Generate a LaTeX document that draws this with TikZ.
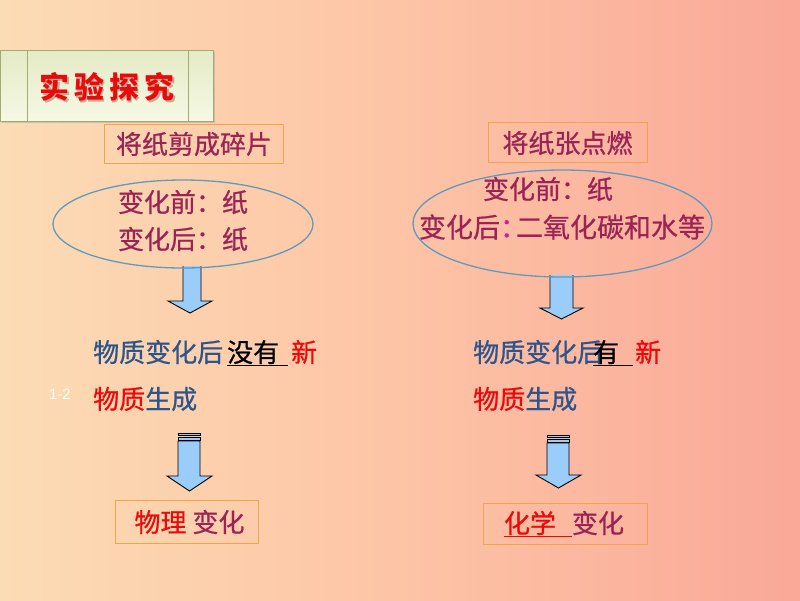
\documentclass[tikz,border=0pt]{standalone}
\usepackage{fontspec}
\newfontfamily\cjk{Noto Sans CJK SC}
\newfontfamily\cjkm[FakeBold=0.7]{Noto Sans CJK SC}
\newfontfamily\lsans{Liberation Sans}
\usetikzlibrary{shapes.geometric}
\definecolor{bgL}{RGB}{252,220,180}
\definecolor{bgM}{RGB}{253,196,166}
\definecolor{bgR}{RGB}{250,168,152}
\definecolor{maroon}{RGB}{155,35,85}
\definecolor{tblue}{RGB}{45,85,140}
\definecolor{tred}{RGB}{235,10,10}
\definecolor{tmag}{RGB}{200,30,160}
\definecolor{boxor}{RGB}{240,165,70}
\definecolor{ellb}{RGB}{95,155,190}
\definecolor{arrfill}{RGB}{155,205,250}
\definecolor{titleT}{RGB}{228,235,198}
\definecolor{titleB}{RGB}{246,248,228}
\definecolor{titleE}{RGB}{165,170,115}
\begin{document}
\begin{tikzpicture}[x=1pt,y=-1pt,
 txt/.style={font=\cjkm\fontsize{26}{30}\selectfont, inner sep=0pt},
 obox/.style={draw=boxor, line width=1pt, inner sep=0pt},
 oval/.style={ellipse, draw=ellb, line width=1.3pt, inner sep=0pt},
 barrow/.style={fill=arrfill, draw=black, line width=0.9pt, line join=miter},
]
% background
\shade[left color=bgL, right color=bgR, middle color=bgM] (0,0) rectangle (800,600);
\useasboundingbox (0,0) rectangle (800,600);

% title box
\fill[black!35, opacity=0.5] (2,52) rectangle (215,123);
\shade[top color=titleT, bottom color=titleB, draw=titleE, line width=1pt] (0,50) rectangle (213,121);
\draw[titleE, line width=1pt] (27,50) -- (27,121) (188,50) -- (188,121);
\node[font=\cjk\bfseries\fontsize{30}{32}\selectfont, text=red!40!black, opacity=0.3, inner sep=0pt] (titlesh) at (108.5,88.5) {实\kern5pt 验\kern5pt 探\kern5pt 究};
\node[font=\cjk\bfseries\fontsize{30}{32}\selectfont, text=tred, inner sep=0pt] (title) at (107,87) {实\kern5pt 验\kern5pt 探\kern5pt 究};

% top boxes
\node[obox, minimum width=179pt, minimum height=39pt] (b1) at (193.5,143.5) {};
\node[txt, text=maroon] (b1t) at (194,144) {将纸剪成碎片};
\node[obox, minimum width=159pt, minimum height=40pt] (b2) at (567.5,142) {};
\node[txt, text=maroon] (b2t) at (567.5,143) {将纸张点燃};

% arrows from ellipses
\filldraw[barrow] (183,266) -- (183,301) -- (168,301) -- (190,313) -- (212,301) -- (201,301) -- (201,266);
\filldraw[barrow] (550,275) -- (550,308) -- (540,308) -- (561.5,319) -- (583,308) -- (573,308) -- (573,275);

% ellipses
\node[oval, minimum width=260pt, minimum height=88pt] (e1) at (183,224) {};
\node[txt, text=maroon] (e1a) at (183,202) {变化前：纸};
\node[txt, text=maroon] (e1b) at (183,239) {变化后：纸};
\node[oval, minimum width=299pt, minimum height=107pt] (e2) at (562.5,223.5) {};
\node[txt, text=maroon] (e2a) at (548,189) {变化前：纸};
\node[txt, text=maroon, font=\cjkm\fontsize{27}{30}\selectfont] (e2b) at (562,227) {变化后\textcolor{tmag}{：}\kern-11pt 二氧化碳和水等};

% middle texts
\node[txt, anchor=west] (l1) at (93,353) {\textcolor{tblue}{物质变化后}\hspace{4pt}\underline{没有\hspace{9pt}}\hspace{3pt}\textcolor{tred}{新}};
\node[txt, anchor=west] (l2) at (93,399) {\textcolor{tred}{物质}\textcolor{tblue}{生成}};
\node[font=\lsans\fontsize{15}{17}\selectfont, text=white, inner sep=0pt] (pg) at (60,394) {1-2};
\node[txt, anchor=west] (r1) at (473,353) {\textcolor{tblue}{物质变化后}\kern-10pt\underline{有\hspace{14pt}}\hspace{2pt}\textcolor{tred}{新}};
\node[txt, anchor=west] (r2) at (473,399) {\textcolor{tred}{物质}\textcolor{tblue}{生成}};

% lower arrows
\filldraw[barrow] (178,433) rectangle (200,435.8);
\filldraw[barrow] (178,437.2) rectangle (200,440);
\filldraw[barrow] (178,441) -- (178,476) -- (167,476) -- (189.5,491) -- (212,476) -- (200,476) -- (200,441) -- cycle;
\filldraw[barrow] (547,435) rectangle (569,437.8);
\filldraw[barrow] (547,439.2) rectangle (569,442);
\filldraw[barrow] (547,443) -- (547,475) -- (536,475) -- (558.5,488) -- (581,475) -- (569,475) -- (569,443) -- cycle;

% bottom boxes
\node[obox, minimum width=143pt, minimum height=43pt] (b3) at (186.5,521.5) {};
\node[txt] (b3t) at (189.5,522) {\textcolor{tred}{物理}\hspace{6pt}\textcolor{maroon}{变化}};
\node[obox, minimum width=164pt, minimum height=41pt] (b4) at (565,523.5) {};
\node[txt] (b4t) at (564,524) {\textcolor{tred}{\underline{化学\hspace{16pt}}}\textcolor{maroon}{变化}};
\end{tikzpicture}
\end{document}
